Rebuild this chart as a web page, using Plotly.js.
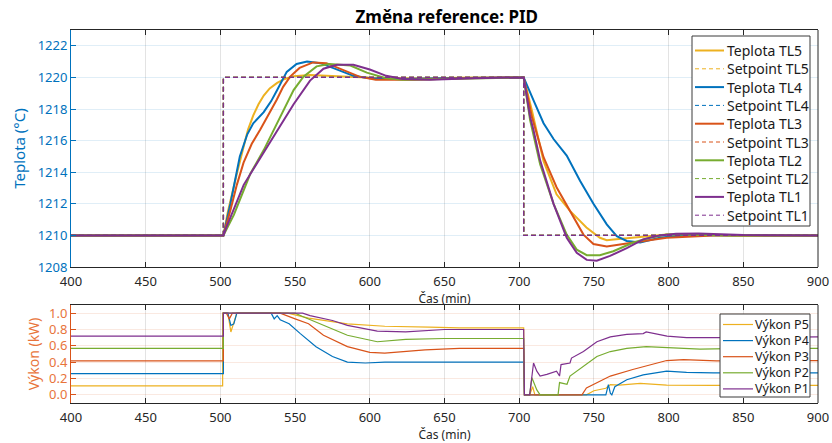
<!DOCTYPE html>
<html>
<head>
<meta charset="utf-8">
<script src="https://cdn.plot.ly/plotly-3.0.1.min.js"></script>
<style>html,body{margin:0;padding:0;background:#fff;}#chart{width:832px;height:443px;}</style>
</head>
<body>
<div id="chart"></div>
<script>
// ---------- DATA ----------
const spT = [400, 502, 502, 703, 703, 900];
const spV = [1210, 1210, 1220, 1220, 1210, 1210];

const tTL5 = [400, 502, 505, 508, 511, 515.5, 518.5, 522, 525.5, 529, 533, 538, 543, 549, 560, 582, 610, 640, 670, 703, 708.5, 716.3, 725, 734, 745, 754, 758.6, 765, 776, 787.5, 798.7, 820, 850, 900];
const vTL5 = [1210, 1210, 1211.5, 1212.8, 1213.9, 1215.6, 1216.7, 1217.6, 1218.3, 1218.85, 1219.3, 1219.65, 1219.9, 1220.08, 1220.15, 1220.05, 1219.95, 1219.95, 1220, 1220, 1217.9, 1214.7, 1212.6, 1211.55, 1210.5, 1209.85, 1209.7, 1209.75, 1209.85, 1209.95, 1210.05, 1210.05, 1210, 1210];

const tTL4 = [400, 502, 506.7, 513, 518, 522, 529, 534, 538, 544.4, 551, 558, 567, 578, 589, 600, 620, 650, 680, 703, 709.6, 716.3, 723, 731.8, 740.8, 749.7, 758.6, 765.3, 772, 781, 794, 803, 830, 900];
const vTL4 = [1210, 1210, 1212, 1215, 1216.4, 1217.1, 1217.8, 1218.5, 1219.2, 1220.35, 1220.85, 1221.0, 1220.9, 1220.5, 1220.1, 1219.95, 1219.9, 1219.95, 1220, 1220, 1218.55, 1217.1, 1216.1, 1215.05, 1213.45, 1212, 1210.7, 1209.95, 1209.65, 1209.55, 1209.85, 1209.95, 1210.02, 1210];

const tTL3 = [400, 502, 506.7, 511, 515.5, 521, 526.7, 532, 537.8, 542, 546.7, 553, 562, 571, 582, 593, 604, 630, 660, 703, 708.5, 716.3, 725, 734, 743, 749.7, 758.6, 769.7, 783, 798.7, 830, 900];
const vTL3 = [1210, 1210, 1211.6, 1213.2, 1214.6, 1215.8, 1216.7, 1217.6, 1218.6, 1219.4, 1220.05, 1220.6, 1220.95, 1220.9, 1220.5, 1220.05, 1219.85, 1219.85, 1219.95, 1220, 1217.5, 1214.95, 1213.05, 1211.55, 1210.05, 1209.45, 1209.3, 1209.45, 1209.65, 1209.85, 1210, 1210];

const tTL2 = [400, 502, 509, 520, 529, 538, 549, 555.6, 564.4, 573, 587, 598, 611, 622, 650, 680, 703, 707.3, 714, 723, 731.8, 738.5, 745.2, 754, 763, 776.4, 787.5, 798.7, 810, 840, 900];
const vTL2 = [1210, 1210, 1211.3, 1213.9, 1215.4, 1217.1, 1219.2, 1220.05, 1220.7, 1220.85, 1220.75, 1220.3, 1219.95, 1219.85, 1219.9, 1220, 1220, 1217.3, 1214.5, 1212, 1210.05, 1209.1, 1208.75, 1208.75, 1209.0, 1209.55, 1209.85, 1210.05, 1210.05, 1210, 1210];

const tTL1 = [400, 502, 504.4, 515.6, 526.7, 537.8, 549, 560, 569, 578, 589, 600, 611, 622, 640, 670, 703, 707.3, 709.6, 714, 723, 731.8, 738.5, 745.2, 751.9, 760.8, 772, 783, 794, 805, 820, 850, 900];
const vTL1 = [1210, 1210, 1210.6, 1213.2, 1214.9, 1216.6, 1218.3, 1219.8, 1220.55, 1220.8, 1220.8, 1220.5, 1220.1, 1219.9, 1219.85, 1219.95, 1220, 1217.5, 1216.65, 1214.75, 1212, 1209.85, 1208.9, 1208.45, 1208.4, 1208.7, 1209.2, 1209.75, 1210.0, 1210.1, 1210.12, 1210.02, 1210];

const tP5 = [400, 501.5, 501.5, 505, 507, 509, 511, 545, 559, 585, 610, 640, 660, 703, 703.5, 707, 709, 710.5, 712, 745, 750, 754, 758, 761, 767, 781, 798.7, 830, 900];
const vP5 = [0.11, 0.11, 1.0, 1.0, 0.77, 0.9, 1.0, 1.0, 0.94, 0.87, 0.84, 0.83, 0.82, 0.82, 0, 0, 0.1, 0, 0, 0, 0.05, 0.065, 0.08, 0.125, 0.12, 0.14, 0.12, 0.115, 0.115];

const tP4 = [400, 502, 502, 505, 507, 509, 511, 534, 536, 538, 540, 546, 553.5, 564, 575, 585, 597, 610, 703, 703.5, 758, 759.7, 761, 762, 764, 772, 783, 798.7, 812, 830, 900];
const vP4 = [0.26, 0.26, 1.0, 1.0, 0.85, 0.87, 1.0, 1.0, 0.93, 0.97, 0.92, 0.87, 0.75, 0.59, 0.47, 0.40, 0.39, 0.40, 0.40, 0, 0, 0.125, 0.02, 0.0, 0.1, 0.185, 0.245, 0.29, 0.275, 0.27, 0.27];

const tP3 = [400, 502, 502, 504, 506, 508, 540, 545, 550, 559, 569, 585, 600, 610, 637, 660, 703, 703.5, 742, 745, 754, 761, 776, 787.5, 798.7, 810, 832, 900];
const vP3 = [0.415, 0.415, 1.0, 1.0, 0.93, 1.0, 1.0, 0.96, 0.93, 0.87, 0.73, 0.59, 0.52, 0.51, 0.55, 0.57, 0.57, 0, 0, 0.085, 0.165, 0.23, 0.31, 0.37, 0.42, 0.43, 0.415, 0.42];

const tP2 = [400, 502, 502, 550, 555, 564, 575, 585, 605, 624, 650, 703, 703.5, 707, 708.5, 711.8, 714, 726, 727, 732, 734, 743, 752, 761, 772, 785, 799, 821, 850, 900];
const vP2 = [0.57, 0.57, 1.0, 1.0, 0.96, 0.89, 0.81, 0.73, 0.65, 0.68, 0.69, 0.69, 0, 0, 0.21, 0.06, 0, 0, 0.15, 0.13, 0.23, 0.35, 0.47, 0.53, 0.57, 0.59, 0.58, 0.56, 0.57, 0.57];

const tP1 = [400, 502, 502, 555, 560, 569, 575, 585, 605, 624, 650, 703, 703.5, 707, 709.6, 711.8, 714, 718.5, 725, 727, 728, 734, 735, 743, 752, 761, 772, 783, 785, 799, 812, 834, 900];
const vP1 = [0.72, 0.72, 1.0, 1.0, 0.97, 0.93, 0.91, 0.85, 0.78, 0.77, 0.80, 0.80, 0, 0, 0.39, 0.29, 0.23, 0.25, 0.29, 0.23, 0.37, 0.39, 0.45, 0.53, 0.65, 0.71, 0.74, 0.75, 0.77, 0.72, 0.70, 0.70, 0.71];

const xTicks = [400, 450, 500, 550, 600, 650, 700, 750, 800, 850, 900];
const tempTicks = [1208, 1210, 1212, 1214, 1216, 1218, 1220, 1222];
const powTicks = [0, 0.2, 0.4, 0.6, 0.8, 1.0];

// ---------- STYLE ----------
const C = {TL5:'#EDB120', TL4:'#0072BD', TL3:'#D95319', TL2:'#77AC30', TL1:'#7E2F8E'};
const font = 'Noto Sans, DejaVu Sans, sans-serif';
const dashPat = '5px,3px';

const tempSeries = [
  ['TL5', tTL5, vTL5], ['TL4', tTL4, vTL4], ['TL3', tTL3, vTL3], ['TL2', tTL2, vTL2], ['TL1', tTL1, vTL1]
];
const powSeries = [
  ['P5', 'TL5', tP5, vP5], ['P4', 'TL4', tP4, vP4], ['P3', 'TL3', tP3, vP3], ['P2', 'TL2', tP2, vP2], ['P1', 'TL1', tP1, vP1]
];

const traces = [];
tempSeries.forEach(([n, t, v]) => {
  traces.push({x: t, y: v, type: 'scatter', mode: 'lines', name: 'Teplota ' + n,
    line: {color: C[n], width: 2}, xaxis: 'x', yaxis: 'y', showlegend: false});
  traces.push({x: spT, y: spV, type: 'scatter', mode: 'lines', name: 'Setpoint ' + n,
    line: {color: C[n], width: 1.3, dash: dashPat}, xaxis: 'x', yaxis: 'y', showlegend: false});
});
powSeries.forEach(([n, c, t, v]) => {
  traces.push({x: t, y: v, type: 'scatter', mode: 'lines', name: 'Výkon ' + n,
    line: {color: C[c], width: 1.2}, xaxis: 'x2', yaxis: 'y2', showlegend: false});
});

// ---------- manual legends (pixel layout -> paper coords) ----------
const PL = 71, PW = 747, PB = 403, PH = 373;
const px2x = p => (p - PL) / PW;
const py2y = p => (PB - p) / PH;
const shapes = [
  {type: 'line', xref: 'paper', x0: 1, x1: 1, yref: 'y domain', y0: 0, y1: 1, line: {color: '#262626', width: 1}},
  {type: 'line', xref: 'paper', x0: 1, x1: 1, yref: 'y2 domain', y0: 0, y1: 1, line: {color: '#262626', width: 1}}
];
const annotations = [];
function addLegend(box, items, lineX0, lineX1, textX, y0, dy, fsize) {
  shapes.push({type: 'rect', xref: 'paper', yref: 'paper',
    x0: px2x(box[0]), x1: px2x(box[1]), y0: py2y(box[3]), y1: py2y(box[2]),
    fillcolor: '#fff', line: {color: '#3a3a3a', width: 1}});
  items.forEach((it, i) => {
    const yy = py2y(y0 + i * dy);
    shapes.push({type: 'line', xref: 'paper', yref: 'paper',
      x0: px2x(lineX0), x1: px2x(lineX1), y0: yy, y1: yy,
      line: {color: it.color, width: it.width, dash: it.dash || 'solid'}});
    annotations.push({xref: 'paper', yref: 'paper', x: px2x(textX), y: yy,
      xanchor: 'left', yanchor: 'middle', showarrow: false, text: it.name,
      font: {family: font, size: fsize, color: '#1a1a1a'}, borderpad: 0});
  });
}
const topItems = [];
tempSeries.forEach(([n]) => {
  topItems.push({name: 'Teplota ' + n, color: C[n], width: 2});
  topItems.push({name: 'Setpoint ' + n, color: C[n], width: 1, dash: '4px,3px'});
});
addLegend([692, 810, 36, 226], topItems, 695, 724, 726, 50.5, 18.3, 14);
const botItems = powSeries.map(([n, c]) => ({name: 'Výkon ' + n, color: C[c], width: 1.2}));
addLegend([720, 810, 314, 397], botItems, 723, 753, 754, 324.5, 16.1, 12.5);

const tickFont = {family: font, size: 13, color: '#262626'};
const xCommon = {
  range: [400, 900], tickvals: xTicks, ticks: 'inside', ticklen: 5, tickcolor: '#262626',
  showline: true, linecolor: '#262626', linewidth: 1, mirror: 'ticks', ticklabelstandoff: 2,
  showgrid: true, gridcolor: 'rgba(38,38,38,0.13)', zeroline: false, tickfont: tickFont
};

const layout = {
  width: 832, height: 443,
  paper_bgcolor: '#fff', plot_bgcolor: '#fff',
  margin: {l: 71, r: 14, t: 30, b: 40},
  font: {family: font},
  showlegend: false,
  title: {text: '<b>Změna reference: PID</b>', font: {family: font, size: 17, color: '#000'},
    x: 0.537, xanchor: 'center', y: 0.962, yanchor: 'middle', yref: 'container'},
  xaxis: Object.assign({}, xCommon, {domain: [0, 1], anchor: 'y',
    title: {text: 'Čas (min)', font: {family: font, size: 12, color: '#262626'}, standoff: 0}}),
  yaxis: {domain: [0.3646, 1], anchor: 'x', range: [1208, 1223],
    tickvals: tempTicks,
    ticks: 'inside', ticklen: 5, tickcolor: '#0072BD',
    showline: true, linecolor: '#0072BD', linewidth: 1, mirror: false,
    showgrid: true, gridcolor: 'rgba(0,114,189,0.12)', zeroline: false,
    tickfont: {family: font, size: 13, color: '#0072BD'},
    title: {text: 'Teplota (°C)', font: {family: font, size: 15, color: '#0072BD'}, standoff: 8}},
  xaxis2: Object.assign({}, xCommon, {domain: [0, 1], anchor: 'y2',
    title: {text: 'Čas (min)', font: {family: font, size: 12, color: '#262626'}, standoff: 0}}),
  yaxis2: {domain: [0, 0.2627], anchor: 'x2', range: [-0.1, 1.1],
    tickvals: powTicks, tickformat: '.1f',
    ticks: 'inside', ticklen: 5, tickcolor: '#D95319',
    showline: true, linecolor: '#D95319', linewidth: 1, mirror: false,
    showgrid: true, gridcolor: 'rgba(217,83,25,0.13)', zeroline: false,
    tickfont: {family: font, size: 13, color: '#E8743B'},
    title: {text: 'Výkon (kW)', font: {family: font, size: 14, color: '#E8743B'}, standoff: 6}},
  shapes: shapes,
  annotations: annotations
};

Plotly.newPlot('chart', traces, layout, {displayModeBar: false, staticPlot: true});
</script>
</body>
</html>
